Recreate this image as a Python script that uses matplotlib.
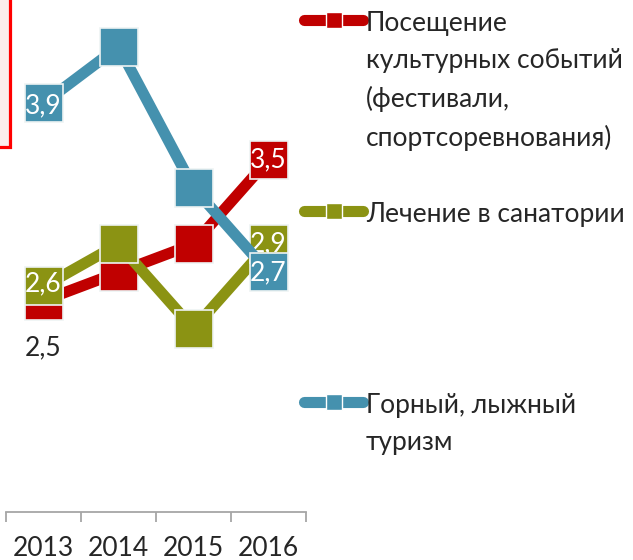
import matplotlib
matplotlib.use("Agg")
import matplotlib.pyplot as plt
from matplotlib.lines import Line2D
from matplotlib.patches import Rectangle

plt.rcParams['font.family'] = ['Lato', 'DejaVu Sans']

years = ["2013", "2014", "2015", "2016"]
culture = [2.5, 2.7, 2.9, 3.5]
sanatorium = [2.6, 2.9, 2.3, 2.9]
mountain = [3.9, 4.3, 3.3, 2.7]

series_names = [
    "Посещение\nкультурных событий\n(фестивали,\nспортсоревнования)",
    "Лечение в санатории",
    "Горный, лыжный\nтуризм",
]
colors = ["#C00000", "#8B9313", "#4591AE"]

# labels shown: (series index, point index, text, offset in px (dx, dy), color)
labels = [
    (0, 0, "2,5", (0, -47), "#262626"),
    (0, 3, "3,5", (0, 0), "white"),
    (1, 0, "2,6", (0, 3), "white"),
    (1, 3, "2,9", (0, 0), "white"),
    (2, 0, "3,9", (0, -3), "white"),
    (2, 3, "2,7", (0, 0), "white"),
]

W, H = 633, 560
fig = plt.figure(figsize=(W / 100, H / 100), dpi=100)

def fx(px):
    return px / W

def fy(py):
    return 1 - py / H

ax = fig.add_axes([fx(6), fy(512), fx(306) - fx(6), fy(18.6) - fy(512)])
ax.set_xlim(-0.5, 3.5)
ax.set_ylim(1.0, 4.5)

data = [culture, sanatorium, mountain]
x = list(range(len(years)))
for i, (vals, c) in enumerate(zip(data, colors)):
    z = 2 + i
    ax.plot(x, vals, color=c, lw=8, solid_capstyle='butt', zorder=z, clip_on=False)
    ax.plot(x, vals, ls='none', marker='s', markersize=28, markerfacecolor=c,
            markeredgecolor='#EEF3F3', markeredgewidth=1.2, zorder=z + 0.1, clip_on=False)

for si, pi, txt, (dx, dy), tc in labels:
    ax.annotate(txt, xy=(pi, data[si][pi]), xytext=(dx * 0.72, dy * 0.72),
                textcoords='offset points', ha='center', va='center',
                fontsize=19, color=tc, zorder=2 + si + 0.2, annotation_clip=False)

for s in ['top', 'right', 'left']:
    ax.spines[s].set_visible(False)
ax.spines['bottom'].set_color('#A6A6A6')
ax.spines['bottom'].set_linewidth(1.3)
ax.set_yticks([])
ax.set_xticks(x)
ax.set_xticklabels(years, fontsize=19, color='#262626')
ax.tick_params(axis='x', which='major', length=0, pad=17)
ax.set_xticks([-0.5, 0.5, 1.5, 2.5, 3.5], minor=True)
ax.tick_params(axis='x', which='minor', length=7, width=1.3, color='#A6A6A6', direction='out')

# red framed shape cropped at top-left
fig.patches.append(Rectangle((fx(-20), fy(146.5)), fx(29.5) - fx(0), fy(-10) - fy(146.5),
                             transform=fig.transFigure, facecolor='#FCEDEC',
                             edgecolor='#FF0000', linewidth=2.3, zorder=0))

# legend
leg_y = [20, 211, 402]
for c, name, ly in zip(colors, series_names, leg_y):
    fig.add_artist(Line2D([fx(304), fx(363)], [fy(ly), fy(ly)], transform=fig.transFigure,
                          color=c, lw=8, solid_capstyle='round'))
    fig.add_artist(Line2D([fx(333.5)], [fy(ly)], transform=fig.transFigure, ls='none',
                          marker='s', markersize=11, markerfacecolor=c,
                          markeredgecolor='white', markeredgewidth=1))
    fig.text(fx(366), fy(ly - 9), name, ha='left', va='top', fontsize=19,
             color='#262626', linespacing=1.6)

fig.savefig("out.png", dpi=100)
